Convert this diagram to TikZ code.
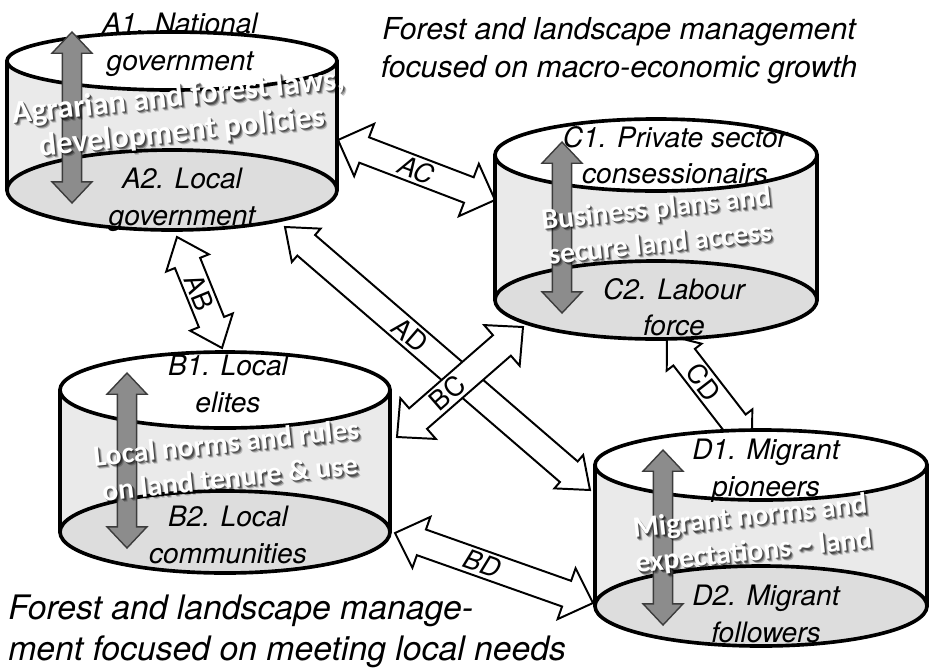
\documentclass[tikz,border=0pt]{standalone}
\usepackage{fontspec}
\usetikzlibrary{calc}
\newfontfamily\helv{TeX Gyre Heros}
\newfontfamily\calib{Carlito}
\definecolor{cSide}{RGB}{234,234,234}
\definecolor{cBase}{RGB}{221,221,221}
\definecolor{cPole}{RGB}{140,140,140}
\definecolor{cPoleEdge}{RGB}{60,60,60}

% two-headed block arrow between two named points
% #1 style, #2 from, #3 to, #4 head length, #5 half head width, #6 half shaft width
\newcommand\dblarrow[6]{%
  \draw[#1] let \p1=($(#3)-(#2)$), \n1={atan2(\y1,\x1)} in
    (#2) -- ($(#2)+(\n1:#4)+(\n1+90:#5)$)
    -- ($(#2)+(\n1:#4)+(\n1+90:#6)$)
    -- ($(#3)+(\n1:-#4)+(\n1+90:#6)$)
    -- ($(#3)+(\n1:-#4)+(\n1+90:#5)$)
    -- (#3)
    -- ($(#3)+(\n1:-#4)+(\n1-90:#5)$)
    -- ($(#3)+(\n1:-#4)+(\n1-90:#6)$)
    -- ($(#2)+(\n1:#4)+(\n1-90:#6)$)
    -- ($(#2)+(\n1:#4)+(\n1-90:#5)$)
    -- cycle;}

% label turned along the arrow
\newcommand\linklabel[4]{%
  \path let \p1=($(#2)-(#1)$), \n1={atan2(\y1,\x1)} in
    node[linktag, rotate=\n1] (tag-#1) at ($(#1)!#3!(#2)$) {#4};}

% cylinder: name, centre x, x radius, top y, top y radius, bottom y, bottom y radius
\newcommand\cyl[7]{%
  \fill[cSide] (#2-#3,#4) rectangle (#2+#3,#6);
  \draw[cylline, fill=cBase] (#2,#6) ellipse [x radius=#3, y radius=#7];
  \draw[cylline, fill=white] (#2,#4) ellipse [x radius=#3, y radius=#5];
  \draw[cylline] (#2-#3,#4) -- (#2-#3,#6) (#2+#3,#4) -- (#2+#3,#6);
  \coordinate (#1) at (#2,{(#4+#6)/2});}

% white text with a soft shadow
\newcommand\rulenode[4][]{%
  \node[rule, #1, text=black, opacity=.2] at ($(#3)+(3.2,3.2)$) {#4};
  \node[rule, #1, text=black, opacity=.35] at ($(#3)+(2.2,2.2)$) {#4};
  \node[rule, #1, text=black, opacity=.45] at ($(#3)+(1.2,1.2)$) {#4};
  \node[rule, #1] (#2) at (#3) {#4};}

\begin{document}
\begin{tikzpicture}[x=0.025cm, y=-0.025cm,
  cylline/.style={line width=2.6pt, line cap=round},
  link/.style={draw=black, fill=white, line width=1.4pt},
  pole/.style={draw=cPoleEdge, fill=cPole, line width=1pt},
  linktag/.style={font=\helv\fontsize{19}{22}\selectfont, inner sep=0pt},
  tag/.style={font=\helv\itshape\fontsize{20}{26}\selectfont, align=center, inner sep=0pt},
  rule/.style={font=\calib\bfseries\fontsize{21}{25}\selectfont, align=center,
    inner sep=0pt, text=white, rotate=6},
  note/.style={font=\helv\itshape\fontsize{21.5}{27}\selectfont, inner sep=0pt}
  ]
  \useasboundingbox (0,0) rectangle (931,671);

  % arrow ends
  \coordinate (ac1) at (338,140); \coordinate (ac2) at (495,200);
  \coordinate (ab1) at (177,237); \coordinate (ab2) at (222,348);
  \coordinate (ad1) at (285,227); \coordinate (ad2) at (590,490);
  \coordinate (bc1) at (397,437); \coordinate (bc2) at (523,327);
  \coordinate (cd1) at (667,335); \coordinate (cd2) at (752,445);
  \coordinate (bd1) at (395,533); \coordinate (bd2) at (593,603);

  % links between the levels
  \foreach \s/\e/\w/\at/\lab in {ac1/ac2/.7cm/.5/\itshape AC, ab1/ab2/.575cm/.5/AB,
      cd1/cd2/.55cm/.43/CD, bd1/bd2/.675cm/.44/\itshape BD,
      ad1/ad2/.55cm/.41/AD, bc1/bc2/.675cm/.4/BC}{
    \dblarrow{link}{\s}{\e}{.7cm}{\w}{.34cm}
    \linklabel{\s}{\e}{\at}{\lab}
  }

  % the four levels
  \cyl{A}{172}{165}{61}{29}{190}{40}
  \cyl{C}{656}{161}{155}{36}{300}{39}
  \cyl{B}{225}{165}{390}{38}{532}{41}
  \cyl{D}{761}{166}{465}{35}{606}{40}

  % vertical ties inside each level
  \coordinate (pa1) at (72,32);   \coordinate (pa2) at (72,203);
  \coordinate (pc1) at (562,142); \coordinate (pc2) at (562,313);
  \coordinate (pb1) at (127,373); \coordinate (pb2) at (127,548);
  \coordinate (pd1) at (663,450); \coordinate (pd2) at (663,625);
  \foreach \k in {a,b,c,d}{
    \dblarrow{pole}{p\k1}{p\k2}{.53cm}{.5cm}{.24cm}
  }

  \node[tag] (a1) at (180,45)  {A1. National\\government};
  \node[tag] (a2) at (182,200) {A2. Local\\government};
  \node[tag] (c1) at (675,155) {C1. Private sector\\consessionairs};
  \node[tag] (c2) at (674,307) {C2. Labour\\force};
  \node[tag] (b1) at (228,384) {B1. Local\\elites};
  \node[tag] (b2) at (228,535) {B2. Local\\communities};
  \node[tag] (d1) at (766,471) {D1. Migrant\\pioneers};
  \node[tag] (d2) at (766,614) {D2. Migrant\\followers};

  \rulenode[font=\calib\bfseries\fontsize{23}{25}\selectfont]{ra}{180,115}{Agrarian and forest laws,\\development policies}
  \rulenode{rc}{658,225}{Business plans and\\secure land access}
  \rulenode{rb}{228,460}{Local norms and rules\\on land tenure \& use}
  \rulenode{rd}{752,535}{Migrant norms and\\expectations \textasciitilde{} land}

  \node[note, align=center] (macro) at (619,51)
    {Forest and landscape management\\focused on macro-economic growth};
  \node[note, align=left, anchor=west, font=\helv\itshape\fontsize{24}{29}\selectfont] (local) at (8,631)
    {Forest and landscape manage-\\ment focused on meeting local needs};
\end{tikzpicture}
\end{document}
